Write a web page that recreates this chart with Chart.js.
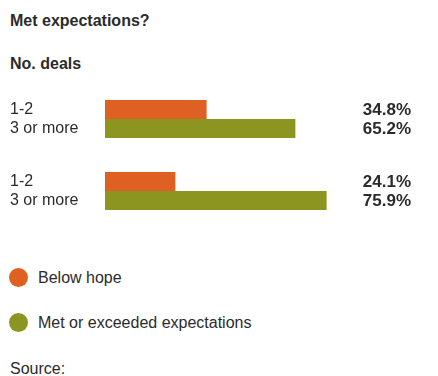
<!DOCTYPE html>
<html>
<head>
<meta charset="utf-8">
<script src="https://cdn.jsdelivr.net/npm/chart.js@4/dist/chart.umd.min.js"></script>
<style>
  body { margin: 0; width: 438px; height: 376px; background: #fff; position: relative; overflow: hidden;
         font-family: "Liberation Sans", Arial, sans-serif; color: #2b2b2b; }
  .txt { position: absolute; left: 10px; line-height: 20px; font-size: 16px; white-space: nowrap; }
  .bold { font-weight: bold; }
  #wrap { position: absolute; left: 0; top: 83px; width: 438px; height: 144px; }
  .leg { position: absolute; left: 9px; height: 20px; line-height: 20px; font-size: 16px; }
  .leg span.dot { display: inline-block; width: 19px; height: 19px; border-radius: 50%; vertical-align: top; margin-right: 10px; }
</style>
</head>
<body>
<div class="txt bold" style="top:11px">Met expectations?</div>
<div class="txt bold" style="top:54px">No. deals</div>
<div id="wrap"><canvas id="c"></canvas></div>
<div id="legend"></div>
<div class="txt" style="top:359px">Source:</div>
<script>
// datos
const grupos = ['A', 'B'];
const seriesNombres = ['Below hope', 'Met or exceeded expectations'];
const belowHope = [34.8, 24.1];
const metExpect = [65.2, 75.9];
const etiquetasFila = ['1-2', '3 or more'];
const colores = ['#de6022', '#8c951f'];

// etiquetas a izquierda y valores a derecha
const etiquetasPlugin = {
  id: 'etiquetas',
  afterDatasetsDraw(chart) {
    const ctx = chart.ctx;
    ctx.save();
    ctx.textBaseline = 'middle';
    ctx.fillStyle = '#2b2b2b';
    chart.data.datasets.forEach((ds, di) => {
      chart.getDatasetMeta(di).data.forEach((bar, i) => {
        ctx.font = '16px "Liberation Sans", Arial, sans-serif';
        ctx.textAlign = 'left';
        ctx.fillText(etiquetasFila[di], 10, bar.y);
        ctx.font = 'bold 17px "Liberation Sans", Arial, sans-serif';
        ctx.textAlign = 'right';
        ctx.fillText(ds.data[i].toFixed(1) + '%', 411, bar.y + 1);
      });
    });
    ctx.restore();
  }
};

const chart = new Chart(document.getElementById('c'), {
  type: 'bar',
  data: {
    labels: grupos,
    datasets: [
      { label: seriesNombres[0], data: belowHope, backgroundColor: colores[0] },
      { label: seriesNombres[1], data: metExpect, backgroundColor: colores[1] }
    ]
  },
  options: {
    indexAxis: 'y',
    responsive: true,
    maintainAspectRatio: false,
    animation: false,
    layout: { padding: { left: 105, right: 41, top: 0, bottom: 0 } },
    categoryPercentage: 0.53,
    barPercentage: 1,
    plugins: { legend: { display: false }, tooltip: { enabled: false } },
    scales: {
      x: { display: false, min: 0, max: 100 },
      y: { display: false }
    }
  },
  plugins: [etiquetasPlugin]
});

// leyenda
const tops = [268, 313];
document.getElementById('legend').innerHTML = chart.data.datasets.map((ds, i) =>
  `<div class="leg" style="top:${tops[i]}px"><span class="dot" style="background:${ds.backgroundColor}"></span>${ds.label}</div>`
).join('');
</script>
</body>
</html>
